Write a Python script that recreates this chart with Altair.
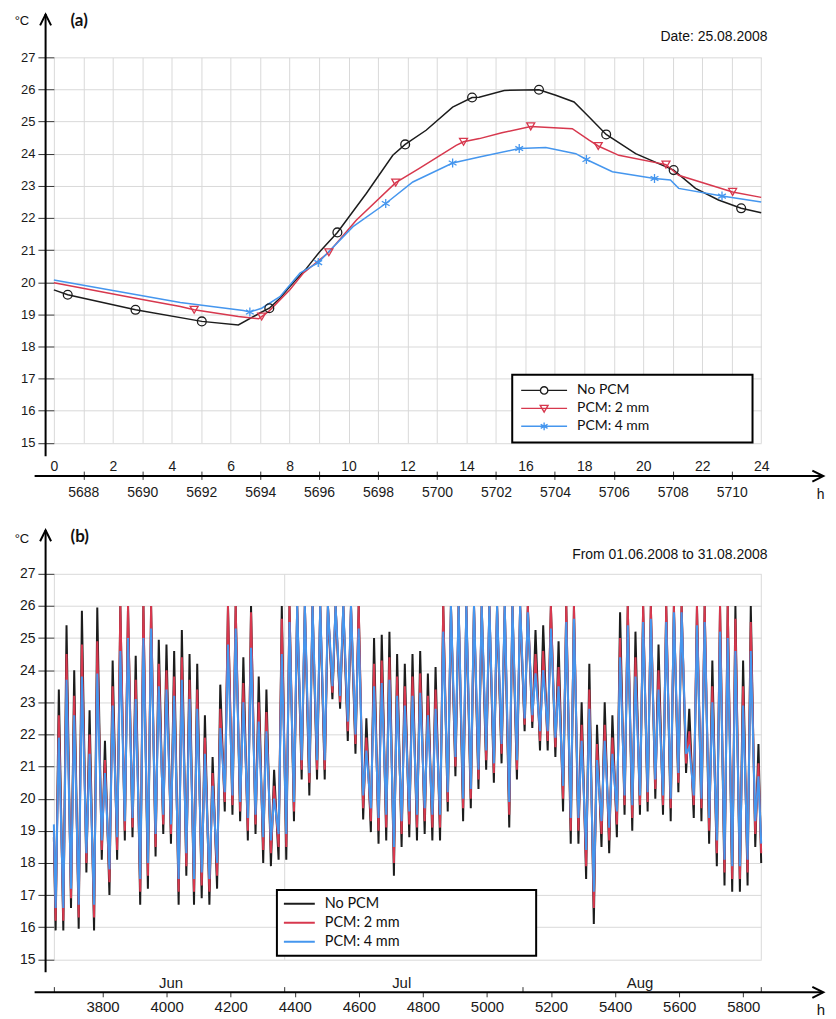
import altair as alt
import pandas as pd

SERIES = ["No PCM", "PCM: 2 mm", "PCM: 4 mm"]
COLORS = ["#1c1c1c", "#d7384e", "#4596ee"]

# ---------------- panel (a): 25.08.2008, hour of day ----------------
A_BLACK_H = [0, 0.47, 2.77, 5.02, 6.26, 6.99, 7.31, 7.67, 8.0, 8.57, 9.02, 9.62, 10.6, 11.5, 11.92,
             12.63, 13.53, 14.19, 14.43, 15.28, 16.46, 17.03, 17.65, 18.16, 18.74, 19.74, 21.03,
             21.77, 22.55, 23.32, 24]
A_BLACK_T = [19.76, 19.61, 19.14, 18.78, 18.67, 19.04, 19.19, 19.5, 19.86, 20.43, 20.95, 21.55, 22.76,
             23.95, 24.29, 24.73, 25.45, 25.75, 25.76, 25.97, 25.99, 25.82, 25.61, 25.14, 24.6, 24.0,
             23.49, 22.92, 22.56, 22.3, 22.16]
A_RED_H = [0, 2.77, 4.29, 4.76, 6.26, 6.95, 7.3, 7.67, 8.0, 8.46, 9.33, 10.26, 11.6, 12.4, 13.65, 13.9,
           14.44, 15.2, 16.18, 17.59, 18.16, 18.47, 19.17, 20.77, 21.2, 23.03, 24]
A_RED_T = [19.98, 19.5, 19.24, 19.14, 18.93, 18.86, 19.1, 19.45, 19.76, 20.28, 20.93, 21.93, 23.1, 23.54,
           24.26, 24.37, 24.47, 24.65, 24.85, 24.78, 24.42, 24.24, 23.95, 23.66, 23.33, 22.81, 22.64]
A_BLUE_H = [0, 4.29, 6.43, 6.65, 7.05, 7.67, 8.35, 8.97, 10.15, 11.26, 12.18, 13.53, 14.44, 15.79, 16.69,
            17.71, 18.07, 18.95, 20.38, 20.92, 21.2, 22.67, 24]
A_BLUE_T = [20.07, 19.37, 19.12, 19.07, 19.19, 19.55, 20.28, 20.61, 21.73, 22.45, 23.12, 23.71, 23.9,
            24.16, 24.19, 24.0, 23.82, 23.44, 23.23, 23.18, 22.92, 22.68, 22.5]

A_MK_BLACK_H = [0.47, 2.77, 5.02, 7.31, 9.62, 11.92, 14.19, 16.46, 18.74, 21.03, 23.32]
A_MK_BLACK_T = [19.61, 19.14, 18.78, 19.19, 21.55, 24.29, 25.75, 25.99, 24.6, 23.49, 22.3]
A_MK_RED_H = [4.76, 7.05, 9.33, 11.6, 13.9, 16.18, 18.47, 20.77, 23.03]
A_MK_RED_T = [19.14, 18.93, 20.93, 23.1, 24.37, 24.85, 24.24, 23.66, 22.81]
A_MK_BLUE_H = [6.65, 8.97, 11.26, 13.53, 15.79, 18.07, 20.38, 22.67]
A_MK_BLUE_T = [19.07, 20.61, 22.45, 23.71, 24.16, 23.82, 23.23, 22.68]

A_HOUR_LABELS = [0, 2, 4, 6, 8, 10, 12, 14, 16, 18, 20, 22, 24]
A_ABS_LABELS = [5688, 5690, 5692, 5694, 5696, 5698, 5700, 5702, 5704, 5706, 5708, 5710]
A_HOUR0 = 5687
A_DATE = "Date: 25.08.2008"

# ---------------- panel (b): 01.06 - 31.08.2008, daily extremes ----------------
B_START = 3648
B_END = 5856
B_TROUGH_HOUR = 5.5
B_PEAK_HOUR = 15.5
B_BLACK_MAX = [23.4, 25.4, 24.0, 25.85, 22.75, 25.95, 21.8, 24.3, 26.0, 26.0,
               24.45, 26.0, 26.0, 24.95, 24.8, 24.6, 25.25, 24.5, 24.2, 22.6,
               21.3, 23.55, 26.0, 26.0, 24.4, 26.0, 23.8, 23.4, 20.9, 26.0,
               26.0, 26.0, 26.0, 26.0, 26.0, 26.0, 26.0, 26.0, 26.0, 26.0,
               22.5, 25.0, 25.1, 25.2, 24.5, 24.2, 24.5, 24.6, 23.9, 24.1,
               26.0, 26.0, 26.0, 26.0, 26.0, 26.0, 26.0, 26.0, 26.0, 26.0,
               26.0, 26.0, 25.25, 25.4, 26.0, 24.9, 26.0, 26.0, 23.0, 24.2,
               22.3, 23.0, 22.6, 25.8, 26.0, 25.2, 26.0, 26.0, 24.8, 26.0,
               26.0, 26.0, 22.8, 26.0, 26.0, 24.3, 26.0, 26.0, 26.0, 24.3,
               26.0, 21.7]
B_BLACK_MIN = [15.9, 15.9, 16.6, 15.95, 17.7, 15.9, 18.1, 17.0, 18.1, 18.7,
               18.8, 16.7, 17.2, 18.2, 18.9, 18.6, 16.7, 17.6, 16.7, 16.9,
               16.7, 17.2, 19.6, 19.5, 19.3, 18.7, 18.9, 18.0, 17.9, 18.1,
               18.1, 19.3, 20.6, 20.1, 20.6, 20.6, 23.1, 22.8, 21.8, 21.4,
               19.35, 18.96, 18.6, 18.7, 17.6, 18.5, 18.8, 18.7, 18.9, 18.7,
               18.7, 19.6, 20.7, 19.3, 19.7, 20.3, 20.9, 20.5, 21.1, 19.1,
               20.6, 22.1, 22.2, 21.5, 21.5, 21.3, 19.6, 18.6, 18.6, 17.5,
               16.1, 18.5, 18.3, 18.8, 19.5, 19.0, 19.5, 19.6, 20.0, 19.5,
               19.3, 20.2, 20.8, 19.4, 19.3, 18.6, 17.9, 17.3, 17.1, 17.1,
               17.3, 18.5]
B_RED_MAX = [22.6, 24.5, 23.2, 24.8, 22.0, 24.9, 21.2, 23.5, 26.0, 26.0,
             23.7, 26.0, 26.0, 24.2, 24.0, 23.8, 24.4, 23.7, 23.4, 21.9,
             20.8, 22.8, 26.0, 26.0, 23.6, 25.8, 23.0, 22.7, 20.4, 25.6,
             26.0, 26.0, 26.0, 26.0, 26.0, 26.0, 26.0, 26.0, 26.0, 26.0,
             21.9, 24.2, 24.3, 24.4, 23.8, 23.5, 23.8, 23.9, 23.2, 23.4,
             26.0, 26.0, 26.0, 26.0, 26.0, 26.0, 26.0, 26.0, 26.0, 26.0,
             26.0, 26.0, 24.5, 24.6, 26.0, 24.1, 26.0, 26.0, 22.3, 23.4,
             21.7, 22.3, 21.9, 25.0, 26.0, 24.4, 26.0, 26.0, 24.0, 26.0,
             26.0, 26.0, 22.1, 26.0, 26.0, 23.5, 26.0, 26.0, 25.6, 23.5,
             25.5, 21.1]
B_RED_MIN = [16.2, 16.2, 16.9, 16.3, 18.0, 16.3, 18.4, 17.4, 18.4, 19.0,
             19.1, 17.1, 17.6, 18.5, 19.2, 18.9, 17.1, 17.9, 17.1, 17.3,
             17.1, 17.6, 19.9, 19.8, 19.6, 19.0, 19.2, 18.4, 18.3, 18.5,
             18.5, 19.6, 20.9, 20.5, 20.9, 20.9, 23.3, 23.0, 22.1, 21.7,
             19.7, 19.3, 19.0, 19.1, 18.0, 18.9, 19.2, 19.1, 19.3, 19.1,
             19.1, 19.9, 21.0, 19.7, 20.0, 20.6, 21.2, 20.8, 21.4, 19.5,
             20.9, 22.3, 22.4, 21.8, 21.8, 21.6, 20.0, 19.0, 19.0, 17.9,
             16.6, 18.9, 18.7, 19.2, 19.8, 19.4, 19.8, 19.9, 20.3, 19.8,
             19.7, 20.5, 21.1, 19.8, 19.7, 19.0, 18.3, 17.7, 17.5, 17.5,
             17.7, 18.9]
B_BLUE_MAX = [21.9, 23.7, 22.6, 23.8, 21.4, 23.9, 20.8, 22.9, 24.6, 25.0,
              23.1, 25.0, 25.3, 23.5, 23.4, 23.2, 23.7, 23.1, 22.8, 21.4,
              20.4, 22.2, 24.8, 25.3, 23.0, 24.7, 22.4, 22.1, 20.0, 24.5,
              25.5, 26.0, 26.0, 26.0, 26.0, 26.0, 26.0, 26.0, 26.0, 25.3,
              21.5, 23.5, 23.6, 23.7, 23.2, 22.9, 23.2, 23.3, 22.6, 22.8,
              25.2, 26.0, 26.0, 26.0, 26.0, 26.0, 26.0, 26.0, 26.0, 26.0,
              26.0, 25.8, 23.9, 24.0, 25.3, 23.5, 25.5, 25.6, 21.8, 22.8,
              21.2, 21.8, 21.4, 24.4, 25.4, 23.8, 25.5, 25.6, 23.4, 25.5,
              25.8, 25.8, 21.6, 25.4, 25.5, 23.0, 25.2, 25.0, 24.6, 22.9,
              24.6, 20.7]
B_BLUE_MIN = [16.6, 16.6, 17.2, 16.7, 18.3, 16.7, 18.7, 17.8, 18.8, 19.3,
              19.4, 17.5, 18.0, 18.9, 19.5, 19.2, 17.5, 18.3, 17.5, 17.7,
              17.5, 18.0, 20.2, 20.1, 19.9, 19.4, 19.5, 18.8, 18.7, 18.9,
              18.9, 19.9, 21.2, 20.8, 21.2, 21.2, 23.5, 23.2, 22.4, 22.0,
              20.1, 19.7, 19.4, 19.5, 18.5, 19.3, 19.6, 19.5, 19.7, 19.5,
              19.5, 20.2, 21.3, 20.0, 20.3, 20.9, 21.5, 21.1, 21.7, 19.9,
              21.2, 22.5, 22.6, 22.1, 22.1, 21.9, 20.4, 19.4, 19.4, 18.4,
              17.1, 19.3, 19.1, 19.6, 20.1, 19.8, 20.1, 20.2, 20.6, 20.1,
              20.0, 20.8, 21.4, 20.1, 20.0, 19.4, 18.7, 18.1, 17.9, 17.9,
              18.1, 19.3]
B_FIRST = [18.8, 19.0, 19.2]
B_LAST = [18.0, 18.3, 18.6]
B_MONTH_STARTS = [3648, 4368, 5112]
B_MONTH_NAMES = ["Jun", "Jul", "Aug"]
B_MONTH_END = [5856]
B_HOUR_LABELS = [3800, 4000, 4200, 4400, 4600, 4800, 5000, 5200, 5400, 5600, 5800]
B_VGRID = [3648, 4368, 5856]
B_PERIOD = "From 01.06.2008 to 31.08.2008"

Y_TICKS = list(range(15, 28))

# ---------------- tables ----------------
a_rows = []
for s, hs, ts in zip(SERIES, [A_BLACK_H, A_RED_H, A_BLUE_H], [A_BLACK_T, A_RED_T, A_BLUE_T]):
    a_rows += [{"series": s, "hour": h, "temp": t} for h, t in zip(hs, ts)]
a_df = pd.DataFrame(a_rows)
m_rows = []
for s, hs, ts in zip(SERIES, [A_MK_BLACK_H, A_MK_RED_H, A_MK_BLUE_H], [A_MK_BLACK_T, A_MK_RED_T, A_MK_BLUE_T]):
    m_rows += [{"series": s, "hour": h, "temp": t} for h, t in zip(hs, ts)]
a_mk = pd.DataFrame(m_rows)

b_rows = []
for i, (s, mins, maxs) in enumerate(zip(SERIES, [B_BLACK_MIN, B_RED_MIN, B_BLUE_MIN],
                                        [B_BLACK_MAX, B_RED_MAX, B_BLUE_MAX])):
    b_rows.append({"series": s, "hour": B_START, "temp": B_FIRST[i]})
    for d in range(len(mins)):
        b_rows.append({"series": s, "hour": B_START + 24 * d + B_TROUGH_HOUR, "temp": mins[d]})
        b_rows.append({"series": s, "hour": B_START + 24 * d + B_PEAK_HOUR, "temp": maxs[d]})
    b_rows.append({"series": s, "hour": B_END, "temp": B_LAST[i]})
b_df = pd.DataFrame(b_rows)

# ---------------- styling ----------------
W, H = 709.4, 386.6
GRID = "#d9d9d9"
TICK = "#333333"
LBL = "#1a1a1a"
AXFONT = "Liberation Sans"
LEGFONT = "Lato"
UP = "M-1,1L0,-1L1,1"
RIGHT = "M-1,-1L1,0L-1,1"
ASTER = "M0,-1L0,1M-0.87,-0.5L0.87,0.5M-0.87,0.5L0.87,-0.5"
LEG_A_PATHS = [
    "M-1,0L-0.16,0M0.16,0L1,0M-0.16,0A0.16,0.16 0 1,0 0.16,0A0.16,0.16 0 1,0 -0.16,0Z",
    "M-1,0L1,0M-0.17,-0.13L0.17,-0.13L0,0.16Z",
    "M-1,0L1,0M0,-0.17L0,0.17M-0.15,-0.09L0.15,0.09M-0.15,0.09L0.15,-0.09",
]
LEG_B_PATH = "M-1,0L1,0"
ARROW_X = 766.2      # centre of the right-pointing chevron (plot coords)
AXIS_END = 771.5


def one(text=""):
    return pd.DataFrame({"t": [text]})


def text_layer(txt, x, y, size, align="left", weight="normal", font=AXFONT):
    return alt.Chart(one(txt)).mark_text(align=align, baseline="middle", font=font, fontSize=size,
                                         fontWeight=weight, color="#111111").encode(
        x=alt.value(x), y=alt.value(y), text="t:N")


def vrule(x, y1, y2):
    return alt.Chart(one()).mark_rule(color="black", strokeWidth=2).encode(
        x=alt.value(x), y=alt.value(y1), y2=alt.value(y2))


def hrule(y, x1, x2):
    return alt.Chart(one()).mark_rule(color="black", strokeWidth=2).encode(
        y=alt.value(y), x=alt.value(x1), x2=alt.value(x2))


def chevron(x, y, path):
    return alt.Chart(one()).mark_point(shape=path, size=121, filled=False, strokeWidth=2,
                                       color="black", opacity=1).encode(x=alt.value(x), y=alt.value(y))


def yaxis(size):
    return alt.Axis(values=Y_TICKS, grid=True, gridColor=GRID, gridWidth=1, domain=False, ticks=True,
                    tickSize=16, tickColor=TICK, tickWidth=1, labelFontSize=size, labelColor=LBL,
                    labelPadding=3, title=None)


# ---------------- panel (a) ----------------
xs_a = alt.Scale(domain=[0, 24], nice=False, zero=False)
ys = alt.Scale(domain=[15, 27], nice=False, zero=False)
ya = yaxis(13)

ax_a_hours = alt.Axis(orient="bottom", values=A_HOUR_LABELS, grid=False, ticks=False, tickSize=0,
                      domain=False, labelPadding=23.7, labelBaseline="middle", labelFlush=False,
                      labelFontSize=14, labelColor=LBL, labelOverlap=False, title=None)
ax_a_grid = alt.Axis(orient="bottom", values=list(range(0, 25)), grid=True, gridColor=GRID, gridWidth=1,
                     labels=False, ticks=False, domain=False, title=None)
ax_a_abs = alt.Axis(orient="bottom", values=[t - A_HOUR0 for t in A_ABS_LABELS],
                    labelExpr=f"datum.value + {A_HOUR0}", offset=28.4, ticks=True, tickSize=8.3,
                    tickColor=TICK, tickWidth=1, domain=False, grid=False, labelPadding=13,
                    labelBaseline="middle", labelFlush=False, labelFontSize=14, labelColor=LBL,
                    labelOverlap=False, title=None)


def a_line(i, axis):
    return alt.Chart(a_df).transform_filter(alt.datum.series == SERIES[i]).mark_line(
        color=COLORS[i], strokeWidth=1.5).encode(
        x=alt.X("hour:Q", scale=xs_a, axis=axis), y=alt.Y("temp:Q", scale=ys, axis=ya))


def a_marks(i, shape, size):
    return alt.Chart(a_mk).transform_filter(alt.datum.series == SERIES[i]).mark_point(
        shape=shape, size=size, filled=False, strokeWidth=1.3, color=COLORS[i], opacity=1).encode(
        x=alt.X("hour:Q", scale=xs_a, axis=None), y=alt.Y("temp:Q", scale=ys, axis=ya))


pad_a = "\u2003" * 9 + "\u200b"
leg_a = alt.Legend(title=None, orient="none", legendX=459.7, legendY=318.3, direction="vertical",
                   padding=8, strokeColor="black", fillColor="white", symbolSize=2116,
                   symbolStrokeWidth=1.4, symbolOpacity=1, labelFont=LEGFONT, labelFontSize=14,
                   labelColor="#111111", labelOffset=9, clipHeight=15.5, rowPadding=2, labelLimit=400,
                   labelExpr=f"datum.label + '{pad_a}'")
legend_a = alt.Chart(a_mk).transform_filter("false").mark_point(filled=False, opacity=1).encode(
    x=alt.X("hour:Q", scale=xs_a, axis=None), y=alt.Y("temp:Q", scale=ys, axis=ya),
    color=alt.Color("series:N", scale=alt.Scale(domain=SERIES, range=COLORS), legend=leg_a),
    shape=alt.Shape("series:N", scale=alt.Scale(domain=SERIES, range=LEG_A_PATHS), legend=leg_a))

panel_a = alt.layer(
    a_line(0, ax_a_hours), a_line(1, ax_a_grid), a_line(2, ax_a_abs),
    a_marks(0, "circle", 78), a_marks(1, "triangle-down", 64), a_marks(2, ASTER, 81),
    legend_a,
    vrule(-8.3, -43.4, 400), chevron(-8.3, -37.6, UP),
    hrule(420, -19.3, AXIS_END), chevron(ARROW_X, 420, RIGHT),
    text_layer("h", 765.0, 439.3, 14),
    text_layer("°C", -39.3, -36.7, 13),
    text_layer("(a)", 16.7, -36.7, 17, weight="bold", font=LEGFONT),
    text_layer(A_DATE, 715.7, -20, 14, align="right"),
).resolve_axis(x="independent").properties(width=W, height=H)

# ---------------- panel (b) ----------------
xs_b = alt.Scale(domain=[B_START, B_END], nice=False, zero=False)
yb = yaxis(14)
month_expr = " : ".join(f"datum.value == {v} ? '{n}'" for v, n in zip(B_MONTH_STARTS, B_MONTH_NAMES)) + " : ''"
ax_b_month = alt.Axis(orient="bottom", values=B_MONTH_STARTS, labelExpr=month_expr, offset=27.4, ticks=True,
                      tickSize=5.7, tickColor=TICK, tickWidth=1, domain=False, grid=False,
                      labelPadding=-10, labelBaseline="middle", labelOffset=117, labelFlush=False,
                      labelFontSize=15, labelColor=LBL, labelOverlap=False, title=None)
ax_b_grid = alt.Axis(orient="bottom", values=B_VGRID, grid=True, gridColor=GRID, gridWidth=1, labels=False,
                     ticks=False, domain=False, title=None)
ax_b_hours = alt.Axis(orient="bottom", values=B_HOUR_LABELS, offset=33.1, ticks=True, tickSize=4.5,
                      tickColor=TICK, tickWidth=1, domain=False, grid=False, labelPadding=10,
                      labelBaseline="middle", labelFlush=False, labelFontSize=15, labelColor=LBL,
                      labelOverlap=False, format="d", title=None)
ax_b_end = alt.Axis(orient="bottom", values=B_MONTH_END, offset=27.4, ticks=True, tickSize=5.7,
                    tickColor=TICK, tickWidth=1, domain=False, grid=False, labels=False, title=None)


def b_line(i, axis):
    return alt.Chart(b_df).transform_filter(alt.datum.series == SERIES[i]).mark_line(
        color=COLORS[i], strokeWidth=2).encode(
        x=alt.X("hour:Q", scale=xs_b, axis=axis), y=alt.Y("temp:Q", scale=ys, axis=yb))


pad_b = "\u2003" * 12 + "\u200b"
leg_b = alt.Legend(title=None, orient="none", legendX=223.7, legendY=317, direction="vertical",
                   padding=6, strokeColor="black", fillColor="white", symbolType=LEG_B_PATH,
                   symbolSize=961, symbolStrokeWidth=2, symbolOpacity=1, labelFont=LEGFONT,
                   labelFontSize=14.5, labelColor="#111111", labelOffset=9, clipHeight=16, rowPadding=3,
                   labelLimit=400, labelExpr=f"datum.label + '{pad_b}'")
legend_b = alt.Chart(b_df).transform_filter("false").mark_line(strokeWidth=2).encode(
    x=alt.X("hour:Q", scale=xs_b, axis=ax_b_end), y=alt.Y("temp:Q", scale=ys, axis=yb),
    color=alt.Color("series:N", scale=alt.Scale(domain=SERIES, range=COLORS), legend=leg_b))

panel_b = alt.layer(
    b_line(0, ax_b_month), b_line(1, ax_b_grid), b_line(2, ax_b_hours),
    legend_b,
    vrule(-8.3, -44, 399.7), chevron(-8.3, -38.2, UP),
    hrule(419.7, -19.3, AXIS_END), chevron(ARROW_X, 419.7, RIGHT),
    text_layer("h", 765.0, 437, 15),
    text_layer("°C", -39.3, -35, 13),
    text_layer("(b)", 16.7, -37, 17, weight="bold", font=LEGFONT),
    text_layer(B_PERIOD, 715.7, -19, 14, align="right"),
).resolve_axis(x="independent").properties(width=W, height=H)

chart = alt.vconcat(panel_a, panel_b, spacing=23).resolve_scale(
    color="independent", shape="independent").properties(
    padding={"left": 6, "top": 0, "right": 0, "bottom": 0}).configure_view(
    stroke=None).configure_legend(strokeWidth=2).configure_axis(labelFont=AXFONT)

chart.save("out.html", embed_options={"renderer": "svg", "actions": False})
